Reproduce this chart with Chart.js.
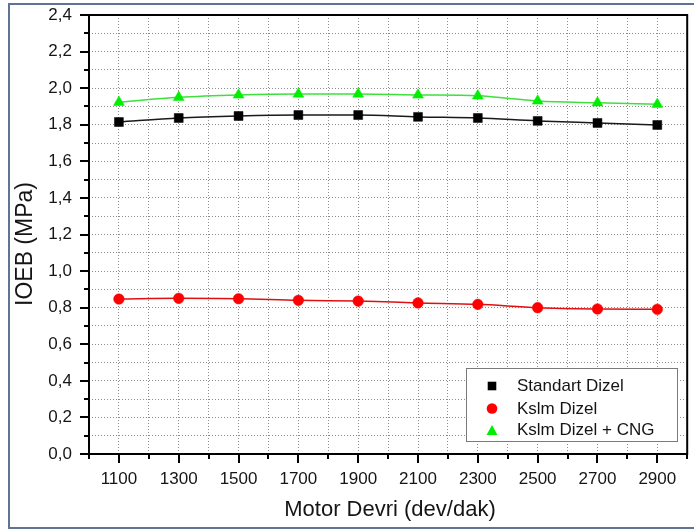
<!DOCTYPE html>
<html>
<head>
<meta charset="utf-8">
<script src="https://cdn.jsdelivr.net/npm/chart.js@4.4.1/dist/chart.umd.min.js"></script>
<style>
  html, body { margin: 0; padding: 0; background: #ffffff; overflow: hidden; }
  canvas { display: block; }
</style>
</head>
<body>
<canvas id="chart" width="694" height="531"></canvas>
<script>
// Engine speed (dev/dak)
const rpm = [1100, 1300, 1500, 1700, 1900, 2100, 2300, 2500, 2700, 2900];
// IOEB (MPa) per fuel mode
const standartDizel = [1.815, 1.837, 1.848, 1.853, 1.853, 1.843, 1.837, 1.821, 1.810, 1.799];
const kslmDizel     = [0.847, 0.851, 0.849, 0.840, 0.836, 0.826, 0.818, 0.800, 0.793, 0.791];
const kslmDizelCng  = [1.923, 1.950, 1.963, 1.968, 1.968, 1.963, 1.958, 1.930, 1.920, 1.912];
const seriesLabels  = ['Standart Dizel', 'Kslm Dizel', 'Kslm Dizel + CNG'];
const xTitle = 'Motor Devri (dev/dak)';
const yTitle = 'IOEB (MPa)';

const FONT = '"Liberation Sans", Arial, sans-serif';
const TEXT = '#151515';

function points(values) {
  return rpm.map((x, i) => ({ x: x, y: values[i] }));
}

// Small marker painter shared by the legend
function marker(ctx, style, x, y, r, color) {
  ctx.save();
  ctx.fillStyle = color;
  ctx.beginPath();
  if (style === 'rect') {
    ctx.rect(x - r, y - r, 2 * r, 2 * r);
  } else if (style === 'circle') {
    ctx.arc(x, y, r, 0, Math.PI * 2);
  } else {
    const h = r * 1.8;
    ctx.moveTo(x, y - h / 2);
    ctx.lineTo(x + r, y + h / 2);
    ctx.lineTo(x - r, y + h / 2);
    ctx.closePath();
  }
  ctx.fill();
  ctx.restore();
}

// Fixed axis footprint, no extra overflow padding from tick labels
function fixBox(size, horizontal) {
  return scale => {
    if (horizontal) scale.height = size; else scale.width = size;
    scale.paddingTop = 0;
    scale.paddingBottom = 0;
    scale.paddingLeft = 0;
    scale.paddingRight = 0;
  };
}

const decor = {
  id: 'decor',
  beforeDraw(chart) {
    const ctx = chart.ctx;
    ctx.save();
    ctx.fillStyle = '#ffffff';
    ctx.fillRect(0, 0, chart.width, chart.height);
    // outer frame
    ctx.strokeStyle = '#5f7393';
    ctx.lineWidth = 2;
    ctx.strokeRect(9, 4, chart.width + 20, 524);
    ctx.restore();
  },
  afterDatasetsDraw(chart) {
    const ctx = chart.ctx;
    const a = chart.chartArea;
    const xs = chart.scales.x, ys = chart.scales.y;
    ctx.save();
    // plot frame
    ctx.strokeStyle = '#000';
    ctx.lineWidth = 2;
    ctx.strokeRect(a.left, a.top, a.right - a.left, a.bottom - a.top);
    // outward tick marks: long where labelled, short otherwise
    ctx.lineWidth = 2;
    xs.ticks.forEach(t => {
      const px = Math.round(xs.getPixelForValue(t.value));
      const len = t.label ? 9 : 5;
      ctx.beginPath();
      ctx.moveTo(px, a.bottom);
      ctx.lineTo(px, a.bottom + len);
      ctx.stroke();
    });
    ys.ticks.forEach(t => {
      const py = Math.round(ys.getPixelForValue(t.value));
      const len = t.label ? 9 : 5;
      ctx.beginPath();
      ctx.moveTo(a.left, py);
      ctx.lineTo(a.left - len, py);
      ctx.stroke();
    });

    // legend box
    const lx = 466, ly = 368, lw = 211, lh = 73;
    ctx.fillStyle = '#ffffff';
    ctx.fillRect(lx, ly, lw, lh);
    ctx.strokeStyle = '#7a7a7a';
    ctx.lineWidth = 1;
    ctx.strokeRect(lx + 0.5, ly + 0.5, lw, lh);
    const rows = [386, 408.5, 430];
    const sizes = { rect: 4.3, circle: 5.3, triangle: 5.5 };
    chart.data.datasets.forEach((ds, i) => {
      marker(ctx, ds.pointStyle, 492, rows[i], sizes[ds.pointStyle], ds.pointBackgroundColor);
      ctx.fillStyle = TEXT;
      ctx.font = '17px ' + FONT;
      ctx.textAlign = 'left';
      ctx.textBaseline = 'middle';
      ctx.fillText(ds.label, 517, rows[i] + 0.5);
    });
    ctx.restore();
  },
  afterDraw(chart) {
    const ctx = chart.ctx;
    ctx.save();
    ctx.fillStyle = TEXT;
    ctx.font = '22px ' + FONT;
    ctx.textAlign = 'center';
    ctx.textBaseline = 'middle';
    ctx.fillText(xTitle, 390, 510);
    ctx.translate(26, 244);
    ctx.rotate(-Math.PI / 2);
    ctx.font = '23px ' + FONT;
    ctx.fillText(yTitle, 0, 0);
    ctx.restore();
  }
};

const gridWidth = ctx => (ctx.index === 0 || ctx.index === ctx.scale.ticks.length - 1) ? 0 : 1;

new Chart(document.getElementById('chart'), {
  type: 'line',
  data: {
    datasets: [
      {
        label: seriesLabels[0],
        data: points(standartDizel),
        borderColor: '#1a1a1a',
        borderWidth: 1.5,
        pointStyle: 'rect',
        pointRadius: 6.3,
        pointBackgroundColor: '#000000',
        pointBorderColor: '#000000',
        pointBorderWidth: 0.5,
        cubicInterpolationMode: 'monotone'
      },
      {
        label: seriesLabels[1],
        data: points(kslmDizel),
        borderColor: '#e01010',
        borderWidth: 1.5,
        pointStyle: 'circle',
        pointRadius: 5.3,
        pointBackgroundColor: '#ff0000',
        pointBorderColor: '#ff0000',
        pointBorderWidth: 0.5,
        cubicInterpolationMode: 'monotone'
      },
      {
        label: seriesLabels[2],
        data: points(kslmDizelCng),
        borderColor: '#3ee03e',
        borderWidth: 1.5,
        pointStyle: 'triangle',
        pointRadius: 6.3,
        pointBackgroundColor: '#00ee00',
        pointBorderColor: '#00ee00',
        pointBorderWidth: 0.5,
        cubicInterpolationMode: 'monotone'
      }
    ]
  },
  options: {
    responsive: false,
    animation: false,
    devicePixelRatio: 1,
    layout: { padding: { top: 15, right: 5, left: 0, bottom: 0 } },
    plugins: { legend: { display: false }, tooltip: { enabled: false } },
    scales: {
      x: {
        type: 'linear',
        min: 1000,
        max: 3000,
        afterFit: fixBox(77, true),
        ticks: {
          stepSize: 100,
          autoSkip: false,
          maxRotation: 0,
          padding: 15,
          color: TEXT,
          font: { family: FONT, size: 17 },
          callback: v => (Math.round(v / 100) % 2 === 1 ? String(v) : '')
        },
        grid: { color: '#8c8c8c', lineWidth: gridWidth, drawTicks: false },
        border: { display: false, dash: [1, 2] }
      },
      y: {
        min: 0,
        max: 2.4,
        afterFit: fixBox(89, false),
        ticks: {
          stepSize: 0.1,
          autoSkip: false,
          padding: 17,
          color: TEXT,
          font: { family: FONT, size: 17 },
          callback: v => (Math.round(v * 10) % 2 === 0 ? v.toFixed(1).replace('.', ',') : '')
        },
        grid: { color: '#8c8c8c', lineWidth: gridWidth, drawTicks: false },
        border: { display: false, dash: [1, 2] }
      }
    }
  },
  plugins: [decor]
});
</script>
</body>
</html>
